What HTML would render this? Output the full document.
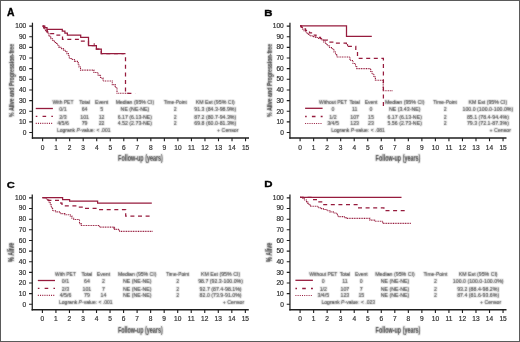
<!DOCTYPE html>
<html><head><meta charset="utf-8"><style>
html,body{margin:0;padding:0;background:#fff;}
svg{display:block;}
text{font-family:"Liberation Sans",sans-serif;}
</style></head><body>
<svg width="520" height="342" viewBox="0 0 520 342">
<rect x="0" y="0" width="520" height="342" fill="#fff"/>
<g stroke="#1e1e1e" fill="none">
<path d="M32.45,22.70 V138.75" stroke-width="1.25"/>
<path d="M31.85,137.95 H249.00" stroke-width="1.6"/>
<path d="M29.25,132.50 H32.45 M29.25,121.86 H32.45 M29.25,111.22 H32.45 M29.25,100.58 H32.45 M29.25,89.94 H32.45 M29.25,79.30 H32.45 M29.25,68.66 H32.45 M29.25,58.02 H32.45 M29.25,47.38 H32.45 M29.25,36.74 H32.45 M29.25,26.10 H32.45 M42.60,137.95 V141.15 M56.13,137.95 V141.15 M69.66,137.95 V141.15 M83.19,137.95 V141.15 M96.72,137.95 V141.15 M110.25,137.95 V141.15 M123.78,137.95 V141.15 M137.31,137.95 V141.15 M150.84,137.95 V141.15 M164.37,137.95 V141.15 M177.90,137.95 V141.15 M191.43,137.95 V141.15 M204.96,137.95 V141.15 M218.49,137.95 V141.15 M232.02,137.95 V141.15 M245.55,137.95 V141.15 " stroke-width="1.1"/>
</g>
<g stroke="#1e1e1e" fill="none">
<path d="M289.95,22.70 V138.75" stroke-width="1.25"/>
<path d="M289.35,137.95 H506.50" stroke-width="1.6"/>
<path d="M286.75,132.50 H289.95 M286.75,121.86 H289.95 M286.75,111.22 H289.95 M286.75,100.58 H289.95 M286.75,89.94 H289.95 M286.75,79.30 H289.95 M286.75,68.66 H289.95 M286.75,58.02 H289.95 M286.75,47.38 H289.95 M286.75,36.74 H289.95 M286.75,26.10 H289.95 M300.10,137.95 V141.15 M313.63,137.95 V141.15 M327.16,137.95 V141.15 M340.69,137.95 V141.15 M354.22,137.95 V141.15 M367.75,137.95 V141.15 M381.28,137.95 V141.15 M394.81,137.95 V141.15 M408.34,137.95 V141.15 M421.87,137.95 V141.15 M435.40,137.95 V141.15 M448.93,137.95 V141.15 M462.46,137.95 V141.15 M475.99,137.95 V141.15 M489.52,137.95 V141.15 M503.05,137.95 V141.15 " stroke-width="1.1"/>
</g>
<g stroke="#1e1e1e" fill="none">
<path d="M32.25,194.50 V310.55" stroke-width="1.25"/>
<path d="M31.65,309.75 H248.80" stroke-width="1.6"/>
<path d="M29.05,304.30 H32.25 M29.05,293.66 H32.25 M29.05,283.02 H32.25 M29.05,272.38 H32.25 M29.05,261.74 H32.25 M29.05,251.10 H32.25 M29.05,240.46 H32.25 M29.05,229.82 H32.25 M29.05,219.18 H32.25 M29.05,208.54 H32.25 M29.05,197.90 H32.25 M42.40,309.75 V312.95 M55.93,309.75 V312.95 M69.46,309.75 V312.95 M82.99,309.75 V312.95 M96.52,309.75 V312.95 M110.05,309.75 V312.95 M123.58,309.75 V312.95 M137.11,309.75 V312.95 M150.64,309.75 V312.95 M164.17,309.75 V312.95 M177.70,309.75 V312.95 M191.23,309.75 V312.95 M204.76,309.75 V312.95 M218.29,309.75 V312.95 M231.82,309.75 V312.95 M245.35,309.75 V312.95 " stroke-width="1.1"/>
</g>
<g stroke="#1e1e1e" fill="none">
<path d="M289.95,194.50 V310.55" stroke-width="1.25"/>
<path d="M289.35,309.75 H506.50" stroke-width="1.6"/>
<path d="M286.75,304.30 H289.95 M286.75,293.66 H289.95 M286.75,283.02 H289.95 M286.75,272.38 H289.95 M286.75,261.74 H289.95 M286.75,251.10 H289.95 M286.75,240.46 H289.95 M286.75,229.82 H289.95 M286.75,219.18 H289.95 M286.75,208.54 H289.95 M286.75,197.90 H289.95 M300.10,309.75 V312.95 M313.63,309.75 V312.95 M327.16,309.75 V312.95 M340.69,309.75 V312.95 M354.22,309.75 V312.95 M367.75,309.75 V312.95 M381.28,309.75 V312.95 M394.81,309.75 V312.95 M408.34,309.75 V312.95 M421.87,309.75 V312.95 M435.40,309.75 V312.95 M448.93,309.75 V312.95 M462.46,309.75 V312.95 M475.99,309.75 V312.95 M489.52,309.75 V312.95 M503.05,309.75 V312.95 " stroke-width="1.1"/>
</g>
<path d="M35.75,108.50 H52.90" stroke="#961b3d" stroke-width="1.3" fill="none"/>
<path d="M35.75,116.40 H52.90" stroke="#961b3d" stroke-width="1.3" fill="none" stroke-dasharray="3.6 5.2" stroke-dashoffset="2"/>
<path d="M35.75,123.40 H52.90" stroke="#961b3d" stroke-width="1.1" fill="none" stroke-dasharray="1 1.2"/>
<path d="M37.85,280.50 H55.00" stroke="#961b3d" stroke-width="1.3" fill="none"/>
<path d="M37.85,288.40 H55.00" stroke="#961b3d" stroke-width="1.3" fill="none" stroke-dasharray="3.6 5.2" stroke-dashoffset="2"/>
<path d="M37.85,295.40 H55.00" stroke="#961b3d" stroke-width="1.1" fill="none" stroke-dasharray="1 1.2"/>
<path d="M305.10,108.30 H322.60" stroke="#961b3d" stroke-width="1.3" fill="none"/>
<path d="M305.10,116.50 H322.60" stroke="#961b3d" stroke-width="1.3" fill="none" stroke-dasharray="3.6 5.2" stroke-dashoffset="2"/>
<path d="M305.10,123.50 H322.60" stroke="#961b3d" stroke-width="1.1" fill="none" stroke-dasharray="1 1.2"/>
<path d="M295.40,280.30 H312.90" stroke="#961b3d" stroke-width="1.3" fill="none"/>
<path d="M295.40,288.50 H312.90" stroke="#961b3d" stroke-width="1.3" fill="none" stroke-dasharray="3.6 5.2" stroke-dashoffset="2"/>
<path d="M295.40,295.50 H312.90" stroke="#961b3d" stroke-width="1.1" fill="none" stroke-dasharray="1 1.2"/>
<path d="M94.2,45.4 V43.199999999999996" stroke="#961b3d" stroke-width="1" fill="none"/>
<path d="M347.6,46.2 V44.0" stroke="#961b3d" stroke-width="1" fill="none"/>
<path d="M114.0,229.2 V227.0" stroke="#961b3d" stroke-width="1" fill="none"/>
<path d="M42.6,26.1 H43.5 V27.6 H44.5 V29.2 H45.5 V30.8 H46.5 V32.3 H48 V34 H49 V35.6 H50 V37.3 H51 V38.8 H52.5 V40.2 H54 V41.8 H55.5 V43.4 H57.5 V45.2 H59 V47.4 H61.5 V48.6 H63.5 V50.2 H65.5 V51.8 H67 V53.6 H68.4 V56 H69.3 V58.5 H71.6 V59.5 H74.5 V61.4 H78.2 V64 H79 V67 H80.5 V70.1 H93.9 V72.5 H98 V75.4 H100.5 V78 H103 V81 H112.3 V84.6 H115.2 V87.5 H117 V93.3 H129.2" stroke="#961b3d" stroke-width="1.1" fill="none" stroke-dasharray="1 0.7"/>
<path d="M42.6,26.1 H44 V28 H45.5 V30 H47.3 V31.9 H50.3 V33.7 H57 V35.2 H62.5 V39.4 H80 V41.1 H88.5 V45.5 H96.4 V49.2 H101.3 V53.6 H125.5 V93.3 H135.1" stroke="#961b3d" stroke-width="1.25" fill="none" stroke-dasharray="4 3.6"/>
<path d="M42.6,26.1 H44.8 V27.5 H47 V29.3 H62.3 V31.1 H64.9 V33 H67.4 V35.1 H80.7 V37.3 H88.5 V45.5 H96.4 V49.2 H101.3 V53.6 H123.8" stroke="#961b3d" stroke-width="1.25" fill="none"/>
<path d="M300,25.8 H301 V27.5 H302.5 V29.2 H304 V30.8 H305.5 V32 H307 V33.6 H308.7 V35.2 H311 V36 H313.5 V36.8 H315.7 V37.5 H318.5 V38.5 H321.6 V39.9 H323.5 V42 H325.5 V44 H327.4 V45.7 H329.5 V47.5 H332.1 V49.2 H334 V52 H335.5 V54.5 H336.8 V57 H350 V60.5 H353 V63.5 H355.5 V66 H356.7 V68.6 H370.7 V71.5 H372 V74 H373.9 V77 H375.4 V80.2 H383.2 V90.7 H393.2" stroke="#961b3d" stroke-width="1.1" fill="none" stroke-dasharray="1 0.7"/>
<path d="M300,25.8 H301.5 V27.2 H303.5 V28.8 H305.5 V30.3 H307.5 V31.5 H309.5 V32.8 H311.5 V34 H313.5 V35 H316 V36.2 H318.5 V37.3 H320.5 V38.7 H323.5 V40.2 H327.4 V42 H334.7 V43.1 H346.4 V46.3 H355.8 V51.5 H357.5 V56 H359.3 V58.4 H383.4 V108.5" stroke="#961b3d" stroke-width="1.25" fill="none" stroke-dasharray="4 3.6"/>
<path d="M300,25.8 H346.5 V36.4 H371.8" stroke="#961b3d" stroke-width="1.25" fill="none"/>
<path d="M42.5,197.7 H46 V199 H47.9 V200.2 H49 V202.5 H50.3 V204.9 H51.3 V206.5 H52 V207.8 H52.6 V210.7 H55.5 V211.9 H60.2 V213.6 H64.9 V214.8 H70.2 V216 H71.9 V218.3 H73.7 V219.5 H78.9 V220.7 H79.5 V223.6 H81.3 V225.5 H99.4 V227.1 H114.6 V229.4 H119.2 V231.4 H152.5" stroke="#961b3d" stroke-width="1.1" fill="none" stroke-dasharray="1 0.7"/>
<path d="M42.5,197.7 H47.4 V200.4 H60.8 V203.1 H62 V205.8 H78.4 V207 H84.8 V208.4 H98.8 V209.5 H125.7 V216.2 H151.8" stroke="#961b3d" stroke-width="1.25" fill="none" stroke-dasharray="4 3.6"/>
<path d="M42.5,197.7 H62.6 V199.6 H69.6 V201.2 H97.6 V203.2 H151.8" stroke="#961b3d" stroke-width="1.25" fill="none"/>
<path d="M300,197.4 H302 V198.4 H304.2 V200 H306.5 V201.9 H307.7 V203.4 H308.9 V204.9 H310.6 V206.3 H318.2 V207.8 H320.6 V208.6 H324 V209.5 H327 V210.7 H329.9 V211.9 H333.4 V213 H336.9 V214.8 H338.1 V216.6 H345.1 V217.7 H346.3 V218.4 H369.9 V220.1 H374.6 V221.2 H382.7 V223.4 H410.8" stroke="#961b3d" stroke-width="1.1" fill="none" stroke-dasharray="1 0.7"/>
<path d="M300,197.4 H313 V199.6 H317.6 V201.9 H322.3 V204.6 H357 V207.8 H383.9 V210.7 H407.3" stroke="#961b3d" stroke-width="1.25" fill="none" stroke-dasharray="4 3.6"/>
<path d="M300,197.3 H401.5" stroke="#961b3d" stroke-width="1.25" fill="none"/>
<defs><filter id="bt" x="0" y="0" width="520" height="342" filterUnits="userSpaceOnUse"><feConvolveMatrix order="3" kernelMatrix="1 2 1 2 10 2 1 2 1" divisor="22" edgeMode="none"/></filter><filter id="bc" x="0" y="0" width="520" height="342" filterUnits="userSpaceOnUse"><feGaussianBlur stdDeviation="0.3"/></filter></defs>
<g style="filter:grayscale(1)"><g filter="url(#bt)">
<text x="118.09" y="160.80" font-size="8.2" font-weight="bold" fill="#333" stroke="#333" stroke-width="0.1" textLength="44.81" lengthAdjust="spacingAndGlyphs">Follow-up (years)</text>
<text transform="translate(14.00,80.40) rotate(-90)" x="-36.53" y="0" font-size="8.1" font-weight="bold" fill="#333" stroke="#333" stroke-width="0.15" textLength="73.07" lengthAdjust="spacingAndGlyphs">% Alive and Progression-free</text>
<text x="375.59" y="160.80" font-size="8.2" font-weight="bold" fill="#333" stroke="#333" stroke-width="0.1" textLength="44.81" lengthAdjust="spacingAndGlyphs">Follow-up (years)</text>
<text transform="translate(271.50,80.40) rotate(-90)" x="-36.53" y="0" font-size="8.1" font-weight="bold" fill="#333" stroke="#333" stroke-width="0.15" textLength="73.07" lengthAdjust="spacingAndGlyphs">% Alive and Progression-free</text>
<text x="117.89" y="332.60" font-size="8.2" font-weight="bold" fill="#333" stroke="#333" stroke-width="0.1" textLength="44.81" lengthAdjust="spacingAndGlyphs">Follow-up (years)</text>
<text transform="translate(14.30,252.30) rotate(-90)" x="-9.59" y="0" font-size="8.6" font-weight="bold" fill="#333" stroke="#333" stroke-width="0.15" textLength="19.17" lengthAdjust="spacingAndGlyphs">% Alive</text>
<text x="375.59" y="332.60" font-size="8.2" font-weight="bold" fill="#333" stroke="#333" stroke-width="0.1" textLength="44.81" lengthAdjust="spacingAndGlyphs">Follow-up (years)</text>
<text transform="translate(272.00,252.30) rotate(-90)" x="-9.59" y="0" font-size="8.6" font-weight="bold" fill="#333" stroke="#333" stroke-width="0.15" textLength="19.17" lengthAdjust="spacingAndGlyphs">% Alive</text>
<text x="52.54" y="103.80" font-size="5.7" fill="#2a2a2a" stroke="#2a2a2a" stroke-width="0.12" textLength="20.91" lengthAdjust="spacingAndGlyphs">With PET</text>
<text x="79.24" y="103.80" font-size="5.7" fill="#2a2a2a" stroke="#2a2a2a" stroke-width="0.12" textLength="10.72" lengthAdjust="spacingAndGlyphs">Total</text>
<text x="94.88" y="103.80" font-size="5.7" fill="#2a2a2a" stroke="#2a2a2a" stroke-width="0.12" textLength="13.43" lengthAdjust="spacingAndGlyphs">Event</text>
<text x="115.65" y="103.80" font-size="5.7" fill="#2a2a2a" stroke="#2a2a2a" stroke-width="0.12" textLength="38.51" lengthAdjust="spacingAndGlyphs">Median (95% CI)</text>
<text x="163.70" y="103.80" font-size="5.7" fill="#2a2a2a" stroke="#2a2a2a" stroke-width="0.12" textLength="23.21" lengthAdjust="spacingAndGlyphs">Time-Point</text>
<text x="195.74" y="103.80" font-size="5.7" fill="#2a2a2a" stroke="#2a2a2a" stroke-width="0.12" textLength="39.11" lengthAdjust="spacingAndGlyphs">KM Est (95% CI)</text>
<text x="59.36" y="111.20" font-size="5.7" fill="#2a2a2a" stroke="#2a2a2a" stroke-width="0.12" textLength="7.29" lengthAdjust="spacingAndGlyphs">0/1</text>
<text x="81.68" y="111.20" font-size="5.7" fill="#2a2a2a" stroke="#2a2a2a" stroke-width="0.12" textLength="5.83" lengthAdjust="spacingAndGlyphs">64</text>
<text x="100.14" y="111.20" font-size="5.7" fill="#2a2a2a" stroke="#2a2a2a" stroke-width="0.12" textLength="2.92" lengthAdjust="spacingAndGlyphs">5</text>
<text x="120.62" y="111.20" font-size="5.7" fill="#2a2a2a" stroke="#2a2a2a" stroke-width="0.12" textLength="28.55" lengthAdjust="spacingAndGlyphs">NE (NE-NE)</text>
<text x="173.84" y="111.20" font-size="5.7" fill="#2a2a2a" stroke="#2a2a2a" stroke-width="0.12" textLength="2.92" lengthAdjust="spacingAndGlyphs">2</text>
<text x="194.31" y="111.20" font-size="5.7" fill="#2a2a2a" stroke="#2a2a2a" stroke-width="0.12" textLength="41.98" lengthAdjust="spacingAndGlyphs">91.3 (84.3-98.9%)</text>
<text x="59.36" y="118.70" font-size="5.7" fill="#2a2a2a" stroke="#2a2a2a" stroke-width="0.12" textLength="7.29" lengthAdjust="spacingAndGlyphs">2/3</text>
<text x="80.23" y="118.70" font-size="5.7" fill="#2a2a2a" stroke="#2a2a2a" stroke-width="0.12" textLength="8.75" lengthAdjust="spacingAndGlyphs">101</text>
<text x="98.68" y="118.70" font-size="5.7" fill="#2a2a2a" stroke="#2a2a2a" stroke-width="0.12" textLength="5.83" lengthAdjust="spacingAndGlyphs">12</text>
<text x="117.70" y="118.70" font-size="5.7" fill="#2a2a2a" stroke="#2a2a2a" stroke-width="0.12" textLength="34.39" lengthAdjust="spacingAndGlyphs">6.17 (6.13-NE)</text>
<text x="173.84" y="118.70" font-size="5.7" fill="#2a2a2a" stroke="#2a2a2a" stroke-width="0.12" textLength="2.92" lengthAdjust="spacingAndGlyphs">2</text>
<text x="194.31" y="118.70" font-size="5.7" fill="#2a2a2a" stroke="#2a2a2a" stroke-width="0.12" textLength="41.98" lengthAdjust="spacingAndGlyphs">87.2 (80.7-94.3%)</text>
<text x="57.17" y="125.40" font-size="5.7" fill="#2a2a2a" stroke="#2a2a2a" stroke-width="0.12" textLength="11.66" lengthAdjust="spacingAndGlyphs">4/5/6</text>
<text x="81.68" y="125.40" font-size="5.7" fill="#2a2a2a" stroke="#2a2a2a" stroke-width="0.12" textLength="5.83" lengthAdjust="spacingAndGlyphs">79</text>
<text x="98.68" y="125.40" font-size="5.7" fill="#2a2a2a" stroke="#2a2a2a" stroke-width="0.12" textLength="5.83" lengthAdjust="spacingAndGlyphs">22</text>
<text x="117.70" y="125.40" font-size="5.7" fill="#2a2a2a" stroke="#2a2a2a" stroke-width="0.12" textLength="34.39" lengthAdjust="spacingAndGlyphs">4.52 (2.73-NE)</text>
<text x="173.84" y="125.40" font-size="5.7" fill="#2a2a2a" stroke="#2a2a2a" stroke-width="0.12" textLength="2.92" lengthAdjust="spacingAndGlyphs">2</text>
<text x="194.31" y="125.40" font-size="5.7" fill="#2a2a2a" stroke="#2a2a2a" stroke-width="0.12" textLength="41.98" lengthAdjust="spacingAndGlyphs">69.8 (60.0-81.3%)</text>
<text x="56.90" y="132.10" font-size="5.7" fill="#2a2a2a" stroke="#2a2a2a" stroke-width="0.12" textLength="53.64" lengthAdjust="spacingAndGlyphs">Logrank <tspan font-style="italic">P</tspan>-value: &lt; .001</text>
<text x="217.08" y="132.10" font-size="5.7" fill="#2a2a2a" stroke="#2a2a2a" stroke-width="0.12" textLength="21.42" lengthAdjust="spacingAndGlyphs">+ Censor</text>
<text x="55.04" y="275.80" font-size="5.7" fill="#2a2a2a" stroke="#2a2a2a" stroke-width="0.12" textLength="20.91" lengthAdjust="spacingAndGlyphs">With PET</text>
<text x="81.54" y="275.80" font-size="5.7" fill="#2a2a2a" stroke="#2a2a2a" stroke-width="0.12" textLength="10.72" lengthAdjust="spacingAndGlyphs">Total</text>
<text x="96.78" y="275.80" font-size="5.7" fill="#2a2a2a" stroke="#2a2a2a" stroke-width="0.12" textLength="13.43" lengthAdjust="spacingAndGlyphs">Event</text>
<text x="117.95" y="275.80" font-size="5.7" fill="#2a2a2a" stroke="#2a2a2a" stroke-width="0.12" textLength="38.51" lengthAdjust="spacingAndGlyphs">Median (95% CI)</text>
<text x="166.00" y="275.80" font-size="5.7" fill="#2a2a2a" stroke="#2a2a2a" stroke-width="0.12" textLength="23.21" lengthAdjust="spacingAndGlyphs">Time-Point</text>
<text x="201.04" y="275.80" font-size="5.7" fill="#2a2a2a" stroke="#2a2a2a" stroke-width="0.12" textLength="39.11" lengthAdjust="spacingAndGlyphs">KM Est (95% CI)</text>
<text x="61.86" y="283.20" font-size="5.7" fill="#2a2a2a" stroke="#2a2a2a" stroke-width="0.12" textLength="7.29" lengthAdjust="spacingAndGlyphs">0/1</text>
<text x="83.98" y="283.20" font-size="5.7" fill="#2a2a2a" stroke="#2a2a2a" stroke-width="0.12" textLength="5.83" lengthAdjust="spacingAndGlyphs">64</text>
<text x="102.04" y="283.20" font-size="5.7" fill="#2a2a2a" stroke="#2a2a2a" stroke-width="0.12" textLength="2.92" lengthAdjust="spacingAndGlyphs">2</text>
<text x="122.92" y="283.20" font-size="5.7" fill="#2a2a2a" stroke="#2a2a2a" stroke-width="0.12" textLength="28.55" lengthAdjust="spacingAndGlyphs">NE (NE-NE)</text>
<text x="176.14" y="283.20" font-size="5.7" fill="#2a2a2a" stroke="#2a2a2a" stroke-width="0.12" textLength="2.92" lengthAdjust="spacingAndGlyphs">2</text>
<text x="198.15" y="283.20" font-size="5.7" fill="#2a2a2a" stroke="#2a2a2a" stroke-width="0.12" textLength="44.90" lengthAdjust="spacingAndGlyphs">98.7 (92.3-100.0%)</text>
<text x="61.86" y="290.70" font-size="5.7" fill="#2a2a2a" stroke="#2a2a2a" stroke-width="0.12" textLength="7.29" lengthAdjust="spacingAndGlyphs">2/3</text>
<text x="82.53" y="290.70" font-size="5.7" fill="#2a2a2a" stroke="#2a2a2a" stroke-width="0.12" textLength="8.75" lengthAdjust="spacingAndGlyphs">101</text>
<text x="102.04" y="290.70" font-size="5.7" fill="#2a2a2a" stroke="#2a2a2a" stroke-width="0.12" textLength="2.92" lengthAdjust="spacingAndGlyphs">7</text>
<text x="122.92" y="290.70" font-size="5.7" fill="#2a2a2a" stroke="#2a2a2a" stroke-width="0.12" textLength="28.55" lengthAdjust="spacingAndGlyphs">NE (NE-NE)</text>
<text x="176.14" y="290.70" font-size="5.7" fill="#2a2a2a" stroke="#2a2a2a" stroke-width="0.12" textLength="2.92" lengthAdjust="spacingAndGlyphs">2</text>
<text x="199.61" y="290.70" font-size="5.7" fill="#2a2a2a" stroke="#2a2a2a" stroke-width="0.12" textLength="41.98" lengthAdjust="spacingAndGlyphs">92.7 (87.4-98.1%)</text>
<text x="59.67" y="297.40" font-size="5.7" fill="#2a2a2a" stroke="#2a2a2a" stroke-width="0.12" textLength="11.66" lengthAdjust="spacingAndGlyphs">4/5/6</text>
<text x="83.98" y="297.40" font-size="5.7" fill="#2a2a2a" stroke="#2a2a2a" stroke-width="0.12" textLength="5.83" lengthAdjust="spacingAndGlyphs">79</text>
<text x="100.58" y="297.40" font-size="5.7" fill="#2a2a2a" stroke="#2a2a2a" stroke-width="0.12" textLength="5.83" lengthAdjust="spacingAndGlyphs">14</text>
<text x="122.92" y="297.40" font-size="5.7" fill="#2a2a2a" stroke="#2a2a2a" stroke-width="0.12" textLength="28.55" lengthAdjust="spacingAndGlyphs">NE (NE-NE)</text>
<text x="176.14" y="297.40" font-size="5.7" fill="#2a2a2a" stroke="#2a2a2a" stroke-width="0.12" textLength="2.92" lengthAdjust="spacingAndGlyphs">2</text>
<text x="199.61" y="297.40" font-size="5.7" fill="#2a2a2a" stroke="#2a2a2a" stroke-width="0.12" textLength="41.98" lengthAdjust="spacingAndGlyphs">82.0 (73.9-91.0%)</text>
<text x="59.00" y="304.10" font-size="5.7" fill="#2a2a2a" stroke="#2a2a2a" stroke-width="0.12" textLength="53.64" lengthAdjust="spacingAndGlyphs">Logrank <tspan font-style="italic">P</tspan>-value: &lt; .001</text>
<text x="222.78" y="304.10" font-size="5.7" fill="#2a2a2a" stroke="#2a2a2a" stroke-width="0.12" textLength="21.42" lengthAdjust="spacingAndGlyphs">+ Censor</text>
<text x="318.99" y="103.80" font-size="5.7" fill="#2a2a2a" stroke="#2a2a2a" stroke-width="0.12" textLength="28.01" lengthAdjust="spacingAndGlyphs">Without PET</text>
<text x="349.40" y="103.80" font-size="5.7" fill="#2a2a2a" stroke="#2a2a2a" stroke-width="0.12" textLength="10.41" lengthAdjust="spacingAndGlyphs">Total</text>
<text x="364.65" y="103.80" font-size="5.7" fill="#2a2a2a" stroke="#2a2a2a" stroke-width="0.12" textLength="12.71" lengthAdjust="spacingAndGlyphs">Event</text>
<text x="384.89" y="103.80" font-size="5.7" fill="#2a2a2a" stroke="#2a2a2a" stroke-width="0.12" textLength="39.63" lengthAdjust="spacingAndGlyphs">Median (95% CI)</text>
<text x="433.19" y="103.80" font-size="5.7" fill="#2a2a2a" stroke="#2a2a2a" stroke-width="0.12" textLength="23.81" lengthAdjust="spacingAndGlyphs">Time-Point</text>
<text x="468.50" y="103.80" font-size="5.7" fill="#2a2a2a" stroke="#2a2a2a" stroke-width="0.12" textLength="38.81" lengthAdjust="spacingAndGlyphs">KM Est (95% CI)</text>
<text x="331.54" y="111.20" font-size="5.7" fill="#2a2a2a" stroke="#2a2a2a" stroke-width="0.12" textLength="2.92" lengthAdjust="spacingAndGlyphs">0</text>
<text x="351.88" y="111.20" font-size="5.7" fill="#2a2a2a" stroke="#2a2a2a" stroke-width="0.12" textLength="5.44" lengthAdjust="spacingAndGlyphs">11</text>
<text x="369.54" y="111.20" font-size="5.7" fill="#2a2a2a" stroke="#2a2a2a" stroke-width="0.12" textLength="2.92" lengthAdjust="spacingAndGlyphs">0</text>
<text x="388.96" y="111.20" font-size="5.7" fill="#2a2a2a" stroke="#2a2a2a" stroke-width="0.12" textLength="31.47" lengthAdjust="spacingAndGlyphs">NE (3.43-NE)</text>
<text x="443.64" y="111.20" font-size="5.7" fill="#2a2a2a" stroke="#2a2a2a" stroke-width="0.12" textLength="2.92" lengthAdjust="spacingAndGlyphs">2</text>
<text x="462.54" y="111.20" font-size="5.7" fill="#2a2a2a" stroke="#2a2a2a" stroke-width="0.12" textLength="50.73" lengthAdjust="spacingAndGlyphs">100.0 (100.0-100.0%)</text>
<text x="329.36" y="118.70" font-size="5.7" fill="#2a2a2a" stroke="#2a2a2a" stroke-width="0.12" textLength="7.29" lengthAdjust="spacingAndGlyphs">1/2</text>
<text x="350.23" y="118.70" font-size="5.7" fill="#2a2a2a" stroke="#2a2a2a" stroke-width="0.12" textLength="8.75" lengthAdjust="spacingAndGlyphs">107</text>
<text x="368.08" y="118.70" font-size="5.7" fill="#2a2a2a" stroke="#2a2a2a" stroke-width="0.12" textLength="5.83" lengthAdjust="spacingAndGlyphs">15</text>
<text x="387.50" y="118.70" font-size="5.7" fill="#2a2a2a" stroke="#2a2a2a" stroke-width="0.12" textLength="34.39" lengthAdjust="spacingAndGlyphs">6.17 (6.13-NE)</text>
<text x="443.64" y="118.70" font-size="5.7" fill="#2a2a2a" stroke="#2a2a2a" stroke-width="0.12" textLength="2.92" lengthAdjust="spacingAndGlyphs">2</text>
<text x="466.91" y="118.70" font-size="5.7" fill="#2a2a2a" stroke="#2a2a2a" stroke-width="0.12" textLength="41.98" lengthAdjust="spacingAndGlyphs">85.1 (78.4-94.4%)</text>
<text x="327.17" y="125.40" font-size="5.7" fill="#2a2a2a" stroke="#2a2a2a" stroke-width="0.12" textLength="11.66" lengthAdjust="spacingAndGlyphs">3/4/5</text>
<text x="350.23" y="125.40" font-size="5.7" fill="#2a2a2a" stroke="#2a2a2a" stroke-width="0.12" textLength="8.75" lengthAdjust="spacingAndGlyphs">123</text>
<text x="368.08" y="125.40" font-size="5.7" fill="#2a2a2a" stroke="#2a2a2a" stroke-width="0.12" textLength="5.83" lengthAdjust="spacingAndGlyphs">23</text>
<text x="387.50" y="125.40" font-size="5.7" fill="#2a2a2a" stroke="#2a2a2a" stroke-width="0.12" textLength="34.39" lengthAdjust="spacingAndGlyphs">5.56 (2.73-NE)</text>
<text x="443.64" y="125.40" font-size="5.7" fill="#2a2a2a" stroke="#2a2a2a" stroke-width="0.12" textLength="2.92" lengthAdjust="spacingAndGlyphs">2</text>
<text x="466.91" y="125.40" font-size="5.7" fill="#2a2a2a" stroke="#2a2a2a" stroke-width="0.12" textLength="41.98" lengthAdjust="spacingAndGlyphs">79.3 (72.1-87.3%)</text>
<text x="331.20" y="132.10" font-size="5.7" fill="#2a2a2a" stroke="#2a2a2a" stroke-width="0.12" textLength="53.64" lengthAdjust="spacingAndGlyphs">Logrank <tspan font-style="italic">P</tspan>-value: &lt; .081</text>
<text x="489.58" y="132.10" font-size="5.7" fill="#2a2a2a" stroke="#2a2a2a" stroke-width="0.12" textLength="21.42" lengthAdjust="spacingAndGlyphs">+ Censor</text>
<text x="309.29" y="275.80" font-size="5.7" fill="#2a2a2a" stroke="#2a2a2a" stroke-width="0.12" textLength="28.01" lengthAdjust="spacingAndGlyphs">Without PET</text>
<text x="339.70" y="275.80" font-size="5.7" fill="#2a2a2a" stroke="#2a2a2a" stroke-width="0.12" textLength="10.41" lengthAdjust="spacingAndGlyphs">Total</text>
<text x="354.95" y="275.80" font-size="5.7" fill="#2a2a2a" stroke="#2a2a2a" stroke-width="0.12" textLength="12.71" lengthAdjust="spacingAndGlyphs">Event</text>
<text x="375.19" y="275.80" font-size="5.7" fill="#2a2a2a" stroke="#2a2a2a" stroke-width="0.12" textLength="39.63" lengthAdjust="spacingAndGlyphs">Median (95% CI)</text>
<text x="423.49" y="275.80" font-size="5.7" fill="#2a2a2a" stroke="#2a2a2a" stroke-width="0.12" textLength="23.81" lengthAdjust="spacingAndGlyphs">Time-Point</text>
<text x="458.80" y="275.80" font-size="5.7" fill="#2a2a2a" stroke="#2a2a2a" stroke-width="0.12" textLength="38.81" lengthAdjust="spacingAndGlyphs">KM Est (95% CI)</text>
<text x="321.84" y="283.20" font-size="5.7" fill="#2a2a2a" stroke="#2a2a2a" stroke-width="0.12" textLength="2.92" lengthAdjust="spacingAndGlyphs">0</text>
<text x="342.18" y="283.20" font-size="5.7" fill="#2a2a2a" stroke="#2a2a2a" stroke-width="0.12" textLength="5.44" lengthAdjust="spacingAndGlyphs">11</text>
<text x="359.84" y="283.20" font-size="5.7" fill="#2a2a2a" stroke="#2a2a2a" stroke-width="0.12" textLength="2.92" lengthAdjust="spacingAndGlyphs">0</text>
<text x="380.72" y="283.20" font-size="5.7" fill="#2a2a2a" stroke="#2a2a2a" stroke-width="0.12" textLength="28.55" lengthAdjust="spacingAndGlyphs">NE (NE-NE)</text>
<text x="433.94" y="283.20" font-size="5.7" fill="#2a2a2a" stroke="#2a2a2a" stroke-width="0.12" textLength="2.92" lengthAdjust="spacingAndGlyphs">2</text>
<text x="452.84" y="283.20" font-size="5.7" fill="#2a2a2a" stroke="#2a2a2a" stroke-width="0.12" textLength="50.73" lengthAdjust="spacingAndGlyphs">100.0 (100.0-100.0%)</text>
<text x="319.66" y="290.70" font-size="5.7" fill="#2a2a2a" stroke="#2a2a2a" stroke-width="0.12" textLength="7.29" lengthAdjust="spacingAndGlyphs">1/2</text>
<text x="340.53" y="290.70" font-size="5.7" fill="#2a2a2a" stroke="#2a2a2a" stroke-width="0.12" textLength="8.75" lengthAdjust="spacingAndGlyphs">107</text>
<text x="359.84" y="290.70" font-size="5.7" fill="#2a2a2a" stroke="#2a2a2a" stroke-width="0.12" textLength="2.92" lengthAdjust="spacingAndGlyphs">7</text>
<text x="380.72" y="290.70" font-size="5.7" fill="#2a2a2a" stroke="#2a2a2a" stroke-width="0.12" textLength="28.55" lengthAdjust="spacingAndGlyphs">NE (NE-NE)</text>
<text x="433.94" y="290.70" font-size="5.7" fill="#2a2a2a" stroke="#2a2a2a" stroke-width="0.12" textLength="2.92" lengthAdjust="spacingAndGlyphs">2</text>
<text x="457.21" y="290.70" font-size="5.7" fill="#2a2a2a" stroke="#2a2a2a" stroke-width="0.12" textLength="41.98" lengthAdjust="spacingAndGlyphs">93.2 (88.4-98.2%)</text>
<text x="317.47" y="297.40" font-size="5.7" fill="#2a2a2a" stroke="#2a2a2a" stroke-width="0.12" textLength="11.66" lengthAdjust="spacingAndGlyphs">3/4/5</text>
<text x="340.53" y="297.40" font-size="5.7" fill="#2a2a2a" stroke="#2a2a2a" stroke-width="0.12" textLength="8.75" lengthAdjust="spacingAndGlyphs">123</text>
<text x="358.38" y="297.40" font-size="5.7" fill="#2a2a2a" stroke="#2a2a2a" stroke-width="0.12" textLength="5.83" lengthAdjust="spacingAndGlyphs">15</text>
<text x="380.72" y="297.40" font-size="5.7" fill="#2a2a2a" stroke="#2a2a2a" stroke-width="0.12" textLength="28.55" lengthAdjust="spacingAndGlyphs">NE (NE-NE)</text>
<text x="433.94" y="297.40" font-size="5.7" fill="#2a2a2a" stroke="#2a2a2a" stroke-width="0.12" textLength="2.92" lengthAdjust="spacingAndGlyphs">2</text>
<text x="457.21" y="297.40" font-size="5.7" fill="#2a2a2a" stroke="#2a2a2a" stroke-width="0.12" textLength="41.98" lengthAdjust="spacingAndGlyphs">87.4 (81.6-93.6%)</text>
<text x="321.50" y="304.10" font-size="5.7" fill="#2a2a2a" stroke="#2a2a2a" stroke-width="0.12" textLength="53.61" lengthAdjust="spacingAndGlyphs">Logrank <tspan font-style="italic">P</tspan>-value: &lt; .023</text>
<text x="479.88" y="304.10" font-size="5.7" fill="#2a2a2a" stroke="#2a2a2a" stroke-width="0.12" textLength="21.42" lengthAdjust="spacingAndGlyphs">+ Censor</text>
</g>
<text x="22.63" y="135.00" font-size="6.6" fill="#333" stroke="#333" stroke-width="0.2" textLength="3.67" lengthAdjust="spacingAndGlyphs">0</text>
<text x="18.96" y="124.00" font-size="6.6" fill="#333" stroke="#333" stroke-width="0.2" textLength="7.34" lengthAdjust="spacingAndGlyphs">10</text>
<text x="18.96" y="114.00" font-size="6.6" fill="#333" stroke="#333" stroke-width="0.2" textLength="7.34" lengthAdjust="spacingAndGlyphs">20</text>
<text x="18.96" y="103.00" font-size="6.6" fill="#333" stroke="#333" stroke-width="0.2" textLength="7.34" lengthAdjust="spacingAndGlyphs">30</text>
<text x="18.96" y="92.00" font-size="6.6" fill="#333" stroke="#333" stroke-width="0.2" textLength="7.34" lengthAdjust="spacingAndGlyphs">40</text>
<text x="18.96" y="81.00" font-size="6.6" fill="#333" stroke="#333" stroke-width="0.2" textLength="7.34" lengthAdjust="spacingAndGlyphs">50</text>
<text x="18.96" y="71.00" font-size="6.6" fill="#333" stroke="#333" stroke-width="0.2" textLength="7.34" lengthAdjust="spacingAndGlyphs">60</text>
<text x="18.96" y="60.00" font-size="6.6" fill="#333" stroke="#333" stroke-width="0.2" textLength="7.34" lengthAdjust="spacingAndGlyphs">70</text>
<text x="18.96" y="49.00" font-size="6.6" fill="#333" stroke="#333" stroke-width="0.2" textLength="7.34" lengthAdjust="spacingAndGlyphs">80</text>
<text x="18.96" y="39.00" font-size="6.6" fill="#333" stroke="#333" stroke-width="0.2" textLength="7.34" lengthAdjust="spacingAndGlyphs">90</text>
<text x="15.29" y="28.00" font-size="6.6" fill="#333" stroke="#333" stroke-width="0.2" textLength="11.01" lengthAdjust="spacingAndGlyphs">100</text>
<text x="40.76" y="149.50" font-size="6.6" fill="#333" stroke="#333" stroke-width="0.2" textLength="3.67" lengthAdjust="spacingAndGlyphs">0</text>
<text x="54.29" y="149.50" font-size="6.6" fill="#333" stroke="#333" stroke-width="0.2" textLength="3.67" lengthAdjust="spacingAndGlyphs">1</text>
<text x="67.82" y="149.50" font-size="6.6" fill="#333" stroke="#333" stroke-width="0.2" textLength="3.67" lengthAdjust="spacingAndGlyphs">2</text>
<text x="81.35" y="149.50" font-size="6.6" fill="#333" stroke="#333" stroke-width="0.2" textLength="3.67" lengthAdjust="spacingAndGlyphs">3</text>
<text x="94.88" y="149.50" font-size="6.6" fill="#333" stroke="#333" stroke-width="0.2" textLength="3.67" lengthAdjust="spacingAndGlyphs">4</text>
<text x="108.41" y="149.50" font-size="6.6" fill="#333" stroke="#333" stroke-width="0.2" textLength="3.67" lengthAdjust="spacingAndGlyphs">5</text>
<text x="121.94" y="149.50" font-size="6.6" fill="#333" stroke="#333" stroke-width="0.2" textLength="3.67" lengthAdjust="spacingAndGlyphs">6</text>
<text x="135.47" y="149.50" font-size="6.6" fill="#333" stroke="#333" stroke-width="0.2" textLength="3.67" lengthAdjust="spacingAndGlyphs">7</text>
<text x="149.00" y="149.50" font-size="6.6" fill="#333" stroke="#333" stroke-width="0.2" textLength="3.67" lengthAdjust="spacingAndGlyphs">8</text>
<text x="162.53" y="149.50" font-size="6.6" fill="#333" stroke="#333" stroke-width="0.2" textLength="3.67" lengthAdjust="spacingAndGlyphs">9</text>
<text x="174.23" y="149.50" font-size="6.6" fill="#333" stroke="#333" stroke-width="0.2" textLength="7.34" lengthAdjust="spacingAndGlyphs">10</text>
<text x="188.00" y="149.50" font-size="6.6" fill="#333" stroke="#333" stroke-width="0.2" textLength="6.85" lengthAdjust="spacingAndGlyphs">11</text>
<text x="201.29" y="149.50" font-size="6.6" fill="#333" stroke="#333" stroke-width="0.2" textLength="7.34" lengthAdjust="spacingAndGlyphs">12</text>
<text x="214.82" y="149.50" font-size="6.6" fill="#333" stroke="#333" stroke-width="0.2" textLength="7.34" lengthAdjust="spacingAndGlyphs">13</text>
<text x="228.35" y="149.50" font-size="6.6" fill="#333" stroke="#333" stroke-width="0.2" textLength="7.34" lengthAdjust="spacingAndGlyphs">14</text>
<text x="241.88" y="149.50" font-size="6.6" fill="#333" stroke="#333" stroke-width="0.2" textLength="7.34" lengthAdjust="spacingAndGlyphs">15</text>
<text x="6.91" y="16.00" font-size="10.0" font-weight="bold" fill="#000" stroke="#000" stroke-width="0.35" textLength="7.49" lengthAdjust="spacingAndGlyphs">A</text>
<text x="280.13" y="135.00" font-size="6.6" fill="#333" stroke="#333" stroke-width="0.2" textLength="3.67" lengthAdjust="spacingAndGlyphs">0</text>
<text x="276.46" y="124.00" font-size="6.6" fill="#333" stroke="#333" stroke-width="0.2" textLength="7.34" lengthAdjust="spacingAndGlyphs">10</text>
<text x="276.46" y="114.00" font-size="6.6" fill="#333" stroke="#333" stroke-width="0.2" textLength="7.34" lengthAdjust="spacingAndGlyphs">20</text>
<text x="276.46" y="103.00" font-size="6.6" fill="#333" stroke="#333" stroke-width="0.2" textLength="7.34" lengthAdjust="spacingAndGlyphs">30</text>
<text x="276.46" y="92.00" font-size="6.6" fill="#333" stroke="#333" stroke-width="0.2" textLength="7.34" lengthAdjust="spacingAndGlyphs">40</text>
<text x="276.46" y="81.00" font-size="6.6" fill="#333" stroke="#333" stroke-width="0.2" textLength="7.34" lengthAdjust="spacingAndGlyphs">50</text>
<text x="276.46" y="71.00" font-size="6.6" fill="#333" stroke="#333" stroke-width="0.2" textLength="7.34" lengthAdjust="spacingAndGlyphs">60</text>
<text x="276.46" y="60.00" font-size="6.6" fill="#333" stroke="#333" stroke-width="0.2" textLength="7.34" lengthAdjust="spacingAndGlyphs">70</text>
<text x="276.46" y="49.00" font-size="6.6" fill="#333" stroke="#333" stroke-width="0.2" textLength="7.34" lengthAdjust="spacingAndGlyphs">80</text>
<text x="276.46" y="39.00" font-size="6.6" fill="#333" stroke="#333" stroke-width="0.2" textLength="7.34" lengthAdjust="spacingAndGlyphs">90</text>
<text x="272.79" y="28.00" font-size="6.6" fill="#333" stroke="#333" stroke-width="0.2" textLength="11.01" lengthAdjust="spacingAndGlyphs">100</text>
<text x="298.26" y="149.50" font-size="6.6" fill="#333" stroke="#333" stroke-width="0.2" textLength="3.67" lengthAdjust="spacingAndGlyphs">0</text>
<text x="311.79" y="149.50" font-size="6.6" fill="#333" stroke="#333" stroke-width="0.2" textLength="3.67" lengthAdjust="spacingAndGlyphs">1</text>
<text x="325.32" y="149.50" font-size="6.6" fill="#333" stroke="#333" stroke-width="0.2" textLength="3.67" lengthAdjust="spacingAndGlyphs">2</text>
<text x="338.85" y="149.50" font-size="6.6" fill="#333" stroke="#333" stroke-width="0.2" textLength="3.67" lengthAdjust="spacingAndGlyphs">3</text>
<text x="352.38" y="149.50" font-size="6.6" fill="#333" stroke="#333" stroke-width="0.2" textLength="3.67" lengthAdjust="spacingAndGlyphs">4</text>
<text x="365.91" y="149.50" font-size="6.6" fill="#333" stroke="#333" stroke-width="0.2" textLength="3.67" lengthAdjust="spacingAndGlyphs">5</text>
<text x="379.44" y="149.50" font-size="6.6" fill="#333" stroke="#333" stroke-width="0.2" textLength="3.67" lengthAdjust="spacingAndGlyphs">6</text>
<text x="392.97" y="149.50" font-size="6.6" fill="#333" stroke="#333" stroke-width="0.2" textLength="3.67" lengthAdjust="spacingAndGlyphs">7</text>
<text x="406.50" y="149.50" font-size="6.6" fill="#333" stroke="#333" stroke-width="0.2" textLength="3.67" lengthAdjust="spacingAndGlyphs">8</text>
<text x="420.03" y="149.50" font-size="6.6" fill="#333" stroke="#333" stroke-width="0.2" textLength="3.67" lengthAdjust="spacingAndGlyphs">9</text>
<text x="431.73" y="149.50" font-size="6.6" fill="#333" stroke="#333" stroke-width="0.2" textLength="7.34" lengthAdjust="spacingAndGlyphs">10</text>
<text x="445.50" y="149.50" font-size="6.6" fill="#333" stroke="#333" stroke-width="0.2" textLength="6.85" lengthAdjust="spacingAndGlyphs">11</text>
<text x="458.79" y="149.50" font-size="6.6" fill="#333" stroke="#333" stroke-width="0.2" textLength="7.34" lengthAdjust="spacingAndGlyphs">12</text>
<text x="472.32" y="149.50" font-size="6.6" fill="#333" stroke="#333" stroke-width="0.2" textLength="7.34" lengthAdjust="spacingAndGlyphs">13</text>
<text x="485.85" y="149.50" font-size="6.6" fill="#333" stroke="#333" stroke-width="0.2" textLength="7.34" lengthAdjust="spacingAndGlyphs">14</text>
<text x="499.38" y="149.50" font-size="6.6" fill="#333" stroke="#333" stroke-width="0.2" textLength="7.34" lengthAdjust="spacingAndGlyphs">15</text>
<text x="264.24" y="15.90" font-size="9.8" font-weight="bold" fill="#000" stroke="#000" stroke-width="0.35" textLength="8.22" lengthAdjust="spacingAndGlyphs">B</text>
<text x="22.43" y="307.00" font-size="6.6" fill="#333" stroke="#333" stroke-width="0.2" textLength="3.67" lengthAdjust="spacingAndGlyphs">0</text>
<text x="18.76" y="296.00" font-size="6.6" fill="#333" stroke="#333" stroke-width="0.2" textLength="7.34" lengthAdjust="spacingAndGlyphs">10</text>
<text x="18.76" y="285.00" font-size="6.6" fill="#333" stroke="#333" stroke-width="0.2" textLength="7.34" lengthAdjust="spacingAndGlyphs">20</text>
<text x="18.76" y="275.00" font-size="6.6" fill="#333" stroke="#333" stroke-width="0.2" textLength="7.34" lengthAdjust="spacingAndGlyphs">30</text>
<text x="18.76" y="264.00" font-size="6.6" fill="#333" stroke="#333" stroke-width="0.2" textLength="7.34" lengthAdjust="spacingAndGlyphs">40</text>
<text x="18.76" y="253.00" font-size="6.6" fill="#333" stroke="#333" stroke-width="0.2" textLength="7.34" lengthAdjust="spacingAndGlyphs">50</text>
<text x="18.76" y="243.00" font-size="6.6" fill="#333" stroke="#333" stroke-width="0.2" textLength="7.34" lengthAdjust="spacingAndGlyphs">60</text>
<text x="18.76" y="232.00" font-size="6.6" fill="#333" stroke="#333" stroke-width="0.2" textLength="7.34" lengthAdjust="spacingAndGlyphs">70</text>
<text x="18.76" y="221.00" font-size="6.6" fill="#333" stroke="#333" stroke-width="0.2" textLength="7.34" lengthAdjust="spacingAndGlyphs">80</text>
<text x="18.76" y="210.00" font-size="6.6" fill="#333" stroke="#333" stroke-width="0.2" textLength="7.34" lengthAdjust="spacingAndGlyphs">90</text>
<text x="15.09" y="200.00" font-size="6.6" fill="#333" stroke="#333" stroke-width="0.2" textLength="11.01" lengthAdjust="spacingAndGlyphs">100</text>
<text x="40.56" y="321.30" font-size="6.6" fill="#333" stroke="#333" stroke-width="0.2" textLength="3.67" lengthAdjust="spacingAndGlyphs">0</text>
<text x="54.09" y="321.30" font-size="6.6" fill="#333" stroke="#333" stroke-width="0.2" textLength="3.67" lengthAdjust="spacingAndGlyphs">1</text>
<text x="67.62" y="321.30" font-size="6.6" fill="#333" stroke="#333" stroke-width="0.2" textLength="3.67" lengthAdjust="spacingAndGlyphs">2</text>
<text x="81.15" y="321.30" font-size="6.6" fill="#333" stroke="#333" stroke-width="0.2" textLength="3.67" lengthAdjust="spacingAndGlyphs">3</text>
<text x="94.68" y="321.30" font-size="6.6" fill="#333" stroke="#333" stroke-width="0.2" textLength="3.67" lengthAdjust="spacingAndGlyphs">4</text>
<text x="108.21" y="321.30" font-size="6.6" fill="#333" stroke="#333" stroke-width="0.2" textLength="3.67" lengthAdjust="spacingAndGlyphs">5</text>
<text x="121.74" y="321.30" font-size="6.6" fill="#333" stroke="#333" stroke-width="0.2" textLength="3.67" lengthAdjust="spacingAndGlyphs">6</text>
<text x="135.27" y="321.30" font-size="6.6" fill="#333" stroke="#333" stroke-width="0.2" textLength="3.67" lengthAdjust="spacingAndGlyphs">7</text>
<text x="148.80" y="321.30" font-size="6.6" fill="#333" stroke="#333" stroke-width="0.2" textLength="3.67" lengthAdjust="spacingAndGlyphs">8</text>
<text x="162.33" y="321.30" font-size="6.6" fill="#333" stroke="#333" stroke-width="0.2" textLength="3.67" lengthAdjust="spacingAndGlyphs">9</text>
<text x="174.03" y="321.30" font-size="6.6" fill="#333" stroke="#333" stroke-width="0.2" textLength="7.34" lengthAdjust="spacingAndGlyphs">10</text>
<text x="187.80" y="321.30" font-size="6.6" fill="#333" stroke="#333" stroke-width="0.2" textLength="6.85" lengthAdjust="spacingAndGlyphs">11</text>
<text x="201.09" y="321.30" font-size="6.6" fill="#333" stroke="#333" stroke-width="0.2" textLength="7.34" lengthAdjust="spacingAndGlyphs">12</text>
<text x="214.62" y="321.30" font-size="6.6" fill="#333" stroke="#333" stroke-width="0.2" textLength="7.34" lengthAdjust="spacingAndGlyphs">13</text>
<text x="228.15" y="321.30" font-size="6.6" fill="#333" stroke="#333" stroke-width="0.2" textLength="7.34" lengthAdjust="spacingAndGlyphs">14</text>
<text x="241.68" y="321.30" font-size="6.6" fill="#333" stroke="#333" stroke-width="0.2" textLength="7.34" lengthAdjust="spacingAndGlyphs">15</text>
<text x="6.78" y="187.60" font-size="9.8" font-weight="bold" fill="#000" stroke="#000" stroke-width="0.35" textLength="8.05" lengthAdjust="spacingAndGlyphs">C</text>
<text x="280.13" y="307.00" font-size="6.6" fill="#333" stroke="#333" stroke-width="0.2" textLength="3.67" lengthAdjust="spacingAndGlyphs">0</text>
<text x="276.46" y="296.00" font-size="6.6" fill="#333" stroke="#333" stroke-width="0.2" textLength="7.34" lengthAdjust="spacingAndGlyphs">10</text>
<text x="276.46" y="285.00" font-size="6.6" fill="#333" stroke="#333" stroke-width="0.2" textLength="7.34" lengthAdjust="spacingAndGlyphs">20</text>
<text x="276.46" y="275.00" font-size="6.6" fill="#333" stroke="#333" stroke-width="0.2" textLength="7.34" lengthAdjust="spacingAndGlyphs">30</text>
<text x="276.46" y="264.00" font-size="6.6" fill="#333" stroke="#333" stroke-width="0.2" textLength="7.34" lengthAdjust="spacingAndGlyphs">40</text>
<text x="276.46" y="253.00" font-size="6.6" fill="#333" stroke="#333" stroke-width="0.2" textLength="7.34" lengthAdjust="spacingAndGlyphs">50</text>
<text x="276.46" y="243.00" font-size="6.6" fill="#333" stroke="#333" stroke-width="0.2" textLength="7.34" lengthAdjust="spacingAndGlyphs">60</text>
<text x="276.46" y="232.00" font-size="6.6" fill="#333" stroke="#333" stroke-width="0.2" textLength="7.34" lengthAdjust="spacingAndGlyphs">70</text>
<text x="276.46" y="221.00" font-size="6.6" fill="#333" stroke="#333" stroke-width="0.2" textLength="7.34" lengthAdjust="spacingAndGlyphs">80</text>
<text x="276.46" y="210.00" font-size="6.6" fill="#333" stroke="#333" stroke-width="0.2" textLength="7.34" lengthAdjust="spacingAndGlyphs">90</text>
<text x="272.79" y="200.00" font-size="6.6" fill="#333" stroke="#333" stroke-width="0.2" textLength="11.01" lengthAdjust="spacingAndGlyphs">100</text>
<text x="298.26" y="321.30" font-size="6.6" fill="#333" stroke="#333" stroke-width="0.2" textLength="3.67" lengthAdjust="spacingAndGlyphs">0</text>
<text x="311.79" y="321.30" font-size="6.6" fill="#333" stroke="#333" stroke-width="0.2" textLength="3.67" lengthAdjust="spacingAndGlyphs">1</text>
<text x="325.32" y="321.30" font-size="6.6" fill="#333" stroke="#333" stroke-width="0.2" textLength="3.67" lengthAdjust="spacingAndGlyphs">2</text>
<text x="338.85" y="321.30" font-size="6.6" fill="#333" stroke="#333" stroke-width="0.2" textLength="3.67" lengthAdjust="spacingAndGlyphs">3</text>
<text x="352.38" y="321.30" font-size="6.6" fill="#333" stroke="#333" stroke-width="0.2" textLength="3.67" lengthAdjust="spacingAndGlyphs">4</text>
<text x="365.91" y="321.30" font-size="6.6" fill="#333" stroke="#333" stroke-width="0.2" textLength="3.67" lengthAdjust="spacingAndGlyphs">5</text>
<text x="379.44" y="321.30" font-size="6.6" fill="#333" stroke="#333" stroke-width="0.2" textLength="3.67" lengthAdjust="spacingAndGlyphs">6</text>
<text x="392.97" y="321.30" font-size="6.6" fill="#333" stroke="#333" stroke-width="0.2" textLength="3.67" lengthAdjust="spacingAndGlyphs">7</text>
<text x="406.50" y="321.30" font-size="6.6" fill="#333" stroke="#333" stroke-width="0.2" textLength="3.67" lengthAdjust="spacingAndGlyphs">8</text>
<text x="420.03" y="321.30" font-size="6.6" fill="#333" stroke="#333" stroke-width="0.2" textLength="3.67" lengthAdjust="spacingAndGlyphs">9</text>
<text x="431.73" y="321.30" font-size="6.6" fill="#333" stroke="#333" stroke-width="0.2" textLength="7.34" lengthAdjust="spacingAndGlyphs">10</text>
<text x="445.50" y="321.30" font-size="6.6" fill="#333" stroke="#333" stroke-width="0.2" textLength="6.85" lengthAdjust="spacingAndGlyphs">11</text>
<text x="458.79" y="321.30" font-size="6.6" fill="#333" stroke="#333" stroke-width="0.2" textLength="7.34" lengthAdjust="spacingAndGlyphs">12</text>
<text x="472.32" y="321.30" font-size="6.6" fill="#333" stroke="#333" stroke-width="0.2" textLength="7.34" lengthAdjust="spacingAndGlyphs">13</text>
<text x="485.85" y="321.30" font-size="6.6" fill="#333" stroke="#333" stroke-width="0.2" textLength="7.34" lengthAdjust="spacingAndGlyphs">14</text>
<text x="499.38" y="321.30" font-size="6.6" fill="#333" stroke="#333" stroke-width="0.2" textLength="7.34" lengthAdjust="spacingAndGlyphs">15</text>
<text x="264.36" y="187.20" font-size="9.5" font-weight="bold" fill="#000" stroke="#000" stroke-width="0.35" textLength="8.27" lengthAdjust="spacingAndGlyphs">D</text>
</g>
<rect x="0.5" y="0.5" width="519" height="341" fill="none" stroke="#5a5a5a" stroke-width="1"/>
</svg>
</body></html>
